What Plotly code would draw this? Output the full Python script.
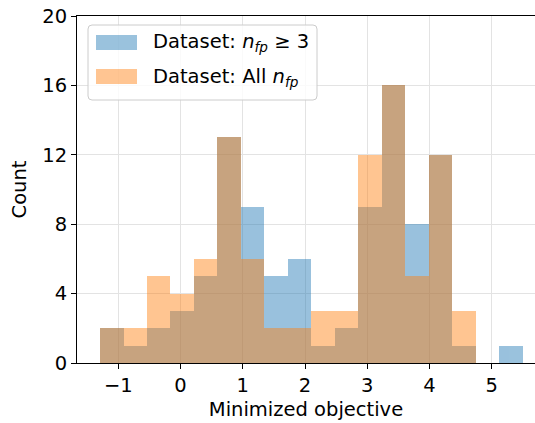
import plotly.graph_objects as go

# ---- data (pre-binned histogram counts) ----
bin_centers = [-1.105, -0.728, -0.351, 0.027, 0.404, 0.782, 1.159, 1.537, 1.914,
               2.292, 2.669, 3.046, 3.424, 3.801, 4.179, 4.556, 4.934, 5.311]
bin_width = 0.3774
counts_nfp_ge3 = [2, 1, 2, 3, 5, 13, 9, 5, 6, 1, 2, 9, 16, 8, 12, 1, 0, 1]
counts_all_nfp = [2, 2, 5, 4, 6, 13, 6, 2, 2, 3, 3, 12, 16, 5, 12, 3, 0, 0]
label_ge3 = "Dataset: <i>n</i><sub><i>fp</i></sub> ≥ 3"
label_all = "Dataset: All <i>n</i><sub><i>fp</i></sub>"
x_ticks = [-1, 0, 1, 2, 3, 4, 5]
y_ticks = [0, 4, 8, 12, 16, 20]

BLUE = "#1f77b4"
ORANGE = "#ff7f0e"
ALPHA = 0.45
FONT = "DejaVu Sans"
FS = 19.5

fig = go.Figure()
fig.add_trace(go.Bar(x=bin_centers, y=counts_nfp_ge3, width=bin_width,
                     marker=dict(color=BLUE, line=dict(width=0)),
                     opacity=ALPHA, name=label_ge3, showlegend=False))
fig.add_trace(go.Bar(x=bin_centers, y=counts_all_nfp, width=bin_width,
                     marker=dict(color=ORANGE, line=dict(width=0)),
                     opacity=ALPHA, name=label_all, showlegend=False))

W, H = 535, 423
ml, mr, mt, mb = 77, 0, 16, 60
pw, ph = W - ml - mr, H - mt - mb


def px(x):
    return (x - ml) / pw


def py(y):
    return (H - mb - y) / ph


# ---- manual legend (box, patches, labels) ----
x0, x1, y0, y1 = 88, 317, 25, 100
r = 4
rx, ry = r / pw, r / ph
X0, X1, Y0, Y1 = px(x0), px(x1), py(y0), py(y1)
path = (f"M {X0+rx},{Y0} L {X1-rx},{Y0} Q {X1},{Y0} {X1},{Y0-ry} "
        f"L {X1},{Y1+ry} Q {X1},{Y1} {X1-rx},{Y1} "
        f"L {X0+rx},{Y1} Q {X0},{Y1} {X0},{Y1+ry} "
        f"L {X0},{Y0-ry} Q {X0},{Y0} {X0+rx},{Y0} Z")
shapes = [dict(type="path", xref="paper", yref="paper", path=path,
               fillcolor="rgba(255,255,255,0.8)", line=dict(color="#cccccc", width=1),
               layer="above")]
for color, (ya, yb) in [(BLUE, (35, 50)), (ORANGE, (69, 84))]:
    shapes.append(dict(type="rect", xref="paper", yref="paper",
                       x0=px(96), x1=px(137), y0=py(yb), y1=py(ya),
                       fillcolor=color, opacity=ALPHA, line=dict(width=0), layer="above"))

annotations = []
for text, yc in [(label_ge3, 42.5), (label_all, 77.5)]:
    annotations.append(dict(xref="paper", yref="paper", x=px(151), y=py(yc),
                            xanchor="left", yanchor="middle", showarrow=False,
                            text=text, font=dict(family=FONT, size=FS, color="black")))

fig.update_layout(
    width=W, height=H,
    margin=dict(l=ml, r=mr, t=mt, b=mb, pad=0),
    paper_bgcolor="white", plot_bgcolor="white",
    barmode="overlay", bargap=0,
    font=dict(family=FONT, size=FS, color="black"),
    shapes=shapes, annotations=annotations,
    showlegend=False,
)
fig.update_xaxes(
    range=[-1.664, 5.696], tickvals=x_ticks, ticks="outside", ticklen=5, tickwidth=1,
    tickcolor="black", showline=True, linecolor="black", linewidth=1, mirror=True,
    showgrid=True, gridcolor="#e3e3e3", gridwidth=1, zeroline=False,
    tickfont=dict(family=FONT, size=FS, color="black"),
    title=dict(text="Minimized objective", standoff=5,
               font=dict(family=FONT, size=FS, color="black")),
)
fig.update_yaxes(
    range=[0, 20], tickvals=y_ticks, ticks="outside", ticklen=5, tickwidth=1,
    tickcolor="black", showline=True, linecolor="black", linewidth=1, mirror=False,
    showgrid=True, gridcolor="#e3e3e3", gridwidth=1, zeroline=False,
    tickfont=dict(family=FONT, size=FS, color="black"),
    title=dict(text="Count", standoff=10,
               font=dict(family=FONT, size=FS, color="black")),
)

fig.write_html("out.html")
